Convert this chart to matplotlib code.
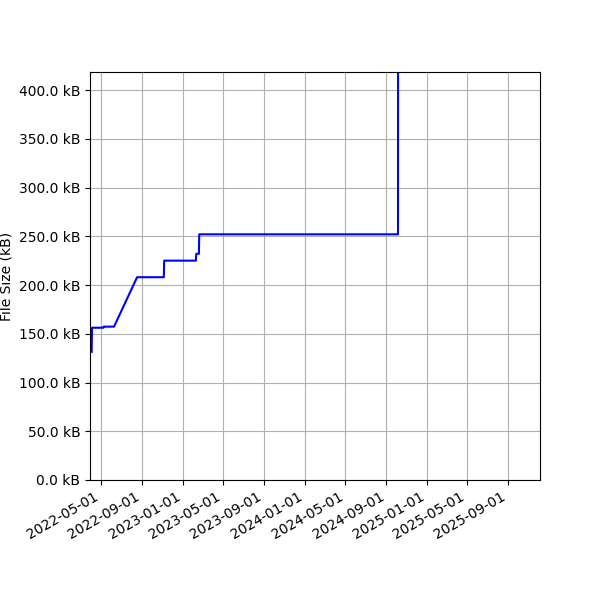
import numpy as np
import pandas as pd
import matplotlib
matplotlib.use("Agg")
import matplotlib.pyplot as plt
import matplotlib.dates as mdates
from matplotlib.ticker import FuncFormatter

dates = ["2022-04-03", "2022-04-04", "2022-05-08", "2022-05-09", "2022-06-09",
         "2022-08-17", "2022-11-05", "2022-11-06", "2023-02-09", "2023-02-10",
         "2023-02-18", "2023-02-19", "2024-10-06", "2024-10-07"]
sizes_kb = [131.5, 156.2, 156.2, 157.3, 157.3,
            208.0, 208.0, 225.0, 225.0, 232.0,
            232.0, 252.0, 252.0, 1200.0]

x = pd.to_datetime(dates)

fig, ax = plt.subplots(figsize=(6, 6), dpi=100)
ax.plot(x, sizes_kb, color="blue")
ax.set_ylabel("File Size (kB)")
ax.yaxis.set_major_formatter(FuncFormatter(lambda v, p: f"{v:.1f} kB"))
ax.set_ylim(0, 418.5)
ax.set_xlim(pd.Timestamp("2022-03-29"), pd.Timestamp("2025-12-05"))
ax.xaxis.set_major_locator(mdates.MonthLocator(bymonth=[1, 5, 9]))
ax.xaxis.set_major_formatter(mdates.DateFormatter("%Y-%m-%d"))
ax.grid(True)
fig.autofmt_xdate()
fig.subplots_adjust(left=0.15, right=0.9, top=0.88, bottom=0.2)

fig.savefig("out.png", dpi=100)
